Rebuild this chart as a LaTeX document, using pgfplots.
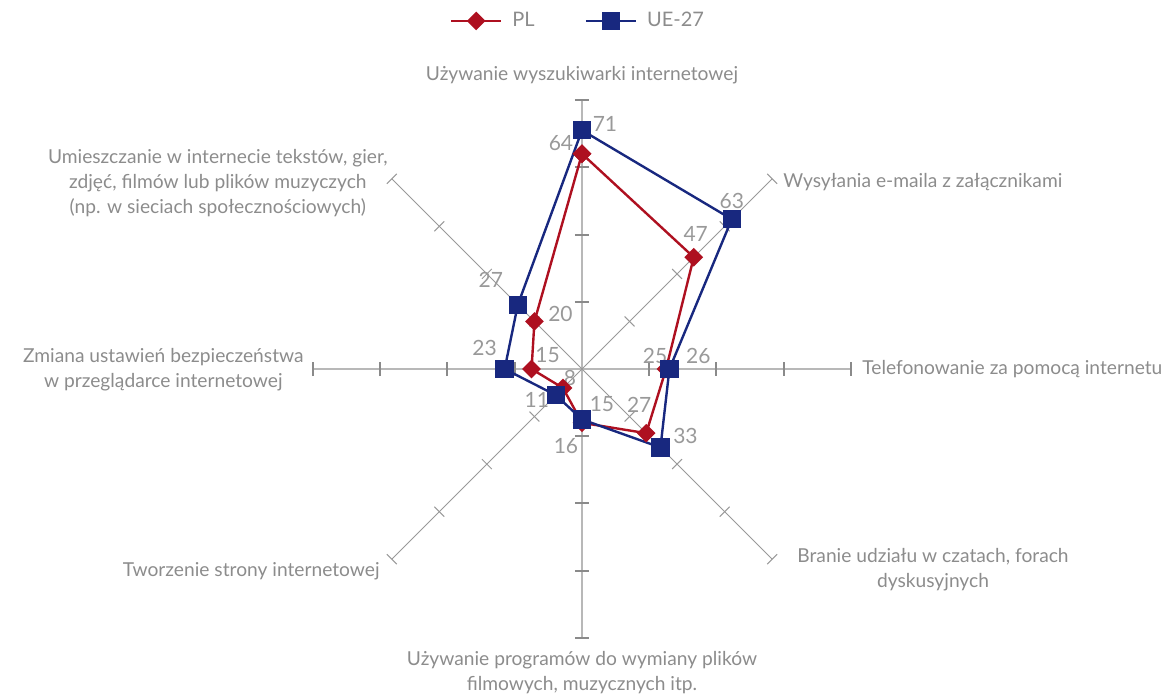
\documentclass[border=0pt]{standalone}
\usepackage{pgfplots}
\pgfplotsset{compat=1.18}
\usepgfplotslibrary{polar}
\usepackage{fontspec}
\setmainfont{Lato}
\definecolor{plred}{HTML}{AE1020}
\definecolor{ueblue}{HTML}{18287F}
\definecolor{txt}{HTML}{8C8C8C}
\definecolor{vals}{HTML}{999999}
\definecolor{mainax}{HTML}{B8B8B8}
\definecolor{maintick}{HTML}{8A8A8A}
\definecolor{diagax}{HTML}{999999}
\begin{document}
\begin{tikzpicture}
\begin{polaraxis}[
  scale only axis, width=269pt, height=269pt,
  xmin=0, xmax=360, ymin=0, ymax=80,
  hide axis,
  clip=false,
  legend columns=2,
  legend style={draw=none, fill=none, at={(0.5,1.147)}, anchor=center,
    font=\fontsize{10}{12}\selectfont\color{txt},
    /tikz/every even column/.append style={column sep=20pt},
    nodes={inner xsep=5pt}},
  legend image code/.code={\draw[mark repeat=2,mark phase=2,#1] plot coordinates {(0pt,0pt) (12.5pt,0pt) (25pt,0pt)};},
]
\coordinate (O) at (axis cs:0,0);
% main spokes (vertical / horizontal)
\draw[mainax, line width=1pt] (axis cs:90,80) -- (axis cs:270,80);
\draw[mainax, line width=1pt] (axis cs:0,80) -- (axis cs:180,80);
% diagonal spokes
\draw[diagax, line width=0.5pt] (axis cs:45,80) -- (axis cs:225,80);
\draw[diagax, line width=0.5pt] (axis cs:135,80) -- (axis cs:315,80);
\foreach \a in {0,90,180,270}{\foreach \r in {20,40,60,80}{%
  \edef\tmp{\noexpand\draw[maintick, line width=1pt] (axis cs:\a,\r) ++(\a+90:3.5pt) -- ++(\a-90:7pt);}\tmp}}
\foreach \a in {45,135,225,315}{\foreach \r in {20,40,60,80}{%
  \edef\tmp{\noexpand\draw[diagax, line width=0.5pt] (axis cs:\a,\r) ++(\a+90:3.5pt) -- ++(\a-90:7pt);}\tmp}}
\addplot[plred, line width=1.2pt, mark=square*, mark size=2.7pt, mark options={rotate=45, solid}]
  coordinates {(90,64) (45,47) (0,25) (315,27) (270,16) (225,8) (180,15) (135,20) (90,64)};
\addlegendentry{PL}
\addplot[ueblue, line width=1.2pt, mark=square*, mark size=4pt, mark options={solid}]
  coordinates {(90,71) (45,63) (0,26) (315,33) (270,15) (225,11) (180,23) (135,27) (90,71)};
\addlegendentry{UE-27}
% value labels
\begin{scope}[every node/.style={font=\fontsize{10.5}{12}\selectfont, text=vals, inner sep=0pt}]
\node[xshift=11.5pt, yshift=3pt] at (axis cs:90,71) {71};
\node[xshift=-10.5pt, yshift=5.5pt] at (axis cs:90,64) {64};
\node[xshift=0pt, yshift=9pt] at (axis cs:45,63) {63};
\node[xshift=1pt, yshift=11.5pt] at (axis cs:45,47) {47};
\node[xshift=14.5pt, yshift=6.5pt] at (axis cs:0,26) {26};
\node[xshift=-5.5pt, yshift=6.5pt] at (axis cs:0,25) {25};
\node[xshift=12.5pt, yshift=5.5pt] at (axis cs:315,33) {33};
\node[xshift=-3.5pt, yshift=14pt] at (axis cs:315,27) {27};
\node[xshift=10pt, yshift=7.5pt] at (axis cs:270,15) {15};
\node[xshift=-8pt, yshift=-11.5pt] at (axis cs:270,16) {16};
\node[xshift=-9.5pt, yshift=-2.5pt] at (axis cs:225,11) {11};
\node[xshift=3.5pt, yshift=5pt] at (axis cs:225,8) {8};
\node[xshift=-10pt, yshift=10.5pt] at (axis cs:180,23) {23};
\node[xshift=8pt, yshift=7pt] at (axis cs:180,15) {15};
\node[xshift=13pt, yshift=3.5pt] at (axis cs:135,20) {20};
\node[xshift=-13.5pt, yshift=12.5pt] at (axis cs:135,27) {27};
\end{scope}
\end{polaraxis}
% category labels
\begin{scope}[every node/.style={font=\fontsize{9.6}{12.5}\selectfont, text=txt, inner sep=0pt, align=center}]
\node[anchor=center] at ([shift={(0pt,147pt)}]O) {Używanie wyszukiwarki internetowej};
\node[anchor=west] at ([shift={(100.5pt,93.5pt)}]O) {Wysyłania e-maila z załącznikami};
\node[anchor=west] at ([shift={(140pt,0pt)}]O) {Telefonowanie za pomocą internetu};
\node[anchor=center] at ([shift={(175.5pt,-100.5pt)}]O) {Branie udziału w czatach, forach\\dyskusyjnych};
\node[anchor=center] at ([shift={(0pt,-152pt)}]O) {Używanie programów do wymiany plików\\filmowych, muzycznych itp.};
\node[anchor=east] at ([shift={(-101pt,-101pt)}]O) {Tworzenie strony internetowej};
\node[anchor=east] at ([shift={(-139pt,-0.5pt)}]O) {Zmiana ustawień bezpieczeństwa\\w przeglądarce internetowej};
\node[anchor=east] at ([shift={(-97pt,93pt)}]O) {Umieszczanie w internecie tekstów, gier,\\zdjęć, filmów lub plików muzyczych\\(np. w sieciach społecznościowych)};
\end{scope}
\pgfresetboundingbox
\path ([shift={(-291pt,-164pt)}]O) rectangle ([shift={(296.5pt,184.5pt)}]O);
\end{tikzpicture}
\end{document}
